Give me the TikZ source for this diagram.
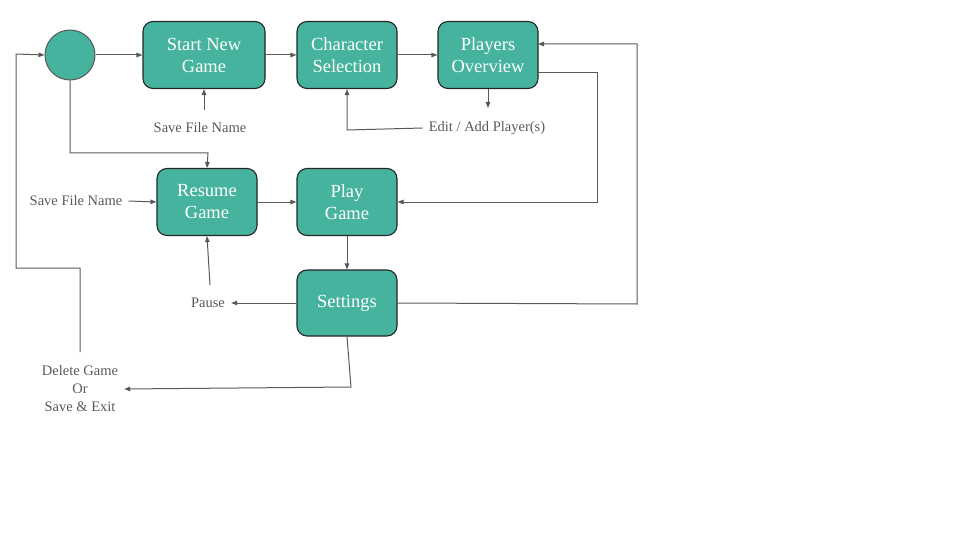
\documentclass[tikz,border=0pt]{standalone}
\usepackage{fontspec}
\setmainfont{Liberation Serif}
\usetikzlibrary{arrows.meta}
\definecolor{stagefill}{HTML}{45B39D}
\definecolor{wire}{HTML}{595959}
\begin{document}
\begin{tikzpicture}[x=1pt,y=-1pt,
  stage/.style={draw=black!85, line width=1.1pt, fill=stagefill, rounded corners=10pt,
    minimum width=100pt, minimum height=67pt, align=center, text=white,
    font=\rmfamily\fontsize{18.5}{22}\selectfont, inner sep=0pt},
  note/.style={text=wire, font=\rmfamily\fontsize{14.5}{18}\selectfont, align=center,
    inner xsep=6pt, inner ysep=3pt},
  flow/.style={draw=wire, line width=1pt, -{Triangle[length=6pt,width=4.5pt]}}]
\useasboundingbox (0,0) rectangle (960,540);

% stages
\node[circle, draw=wire, fill=stagefill, minimum size=50pt, inner sep=0pt, line width=1pt] (start) at (70,55) {};
\node[stage, minimum width=122pt] (new) at (204,55) {Start New\\Game};
\node[stage] (chars) at (347,55) {Character\\Selection};
\node[stage] (players) at (488,55) {Players\\Overview};
\node[stage] (resume) at (207,202) {Resume\\Game};
\node[stage] (play) at (347,202) {Play\\Game};
\node[stage, minimum height=66pt] (settings) at (347,303) {Settings};

% labels
\node[note] (sfn1) at (200,128) {Save File Name};
\node[note] (edit) at (487,128) {Edit / Add Player(s)};
\node[note] (sfn2) at (76,201) {Save File Name};
\node[note] (pause) at (208,303) {Pause};
\node[note] (exit) at (80,389) {Delete Game\\Or\\Save \& Exit};

% routing points
\coordinate (sfnTop) at (204,110);
\coordinate (ov) at (488,108);
\coordinate (eb) at (347,130);
\coordinate (rb) at (208,153);
\coordinate (po) at (538,73);
\coordinate (r1) at (597,73);
\coordinate (r2) at (637,304);
\coordinate (pi) at (538,44);
\coordinate (pu) at (210,285);
\coordinate (sx) at (351,387);
\coordinate (xs) at (80,352);
\coordinate (x1) at (80,268);
\coordinate (x2) at (16,268);
\coordinate (x3) at (16,54);

% connectors
\draw[flow] (start) -- (new);
\draw[flow] (new) -- (chars);
\draw[flow] (chars) -- (players);
\draw[flow] (players) -- (ov);
\draw[flow] (edit.west) -- (eb) -- (chars.south);
\draw[flow] (sfnTop) -- (new.south);
\draw[flow] (start.south) |- (rb) -- (resume.north);
\draw[flow] (sfn2.east) -- (resume.west);
\draw[flow] (resume) -- (play);
\draw[flow] (po) -- (r1) |- (play.east);
\draw[flow] (settings.east) -- (r2) |- (pi);
\draw[flow] (play) -- (settings);
\draw[flow] (settings) -- (pause);
\draw[flow] (pu) -- (resume.south);
\draw[flow] (settings.south) -- (sx) -- (exit.east);
\draw[flow] (xs) -- (x1) -- (x2) -- (x3) -- (start.west);
\end{tikzpicture}
\end{document}
